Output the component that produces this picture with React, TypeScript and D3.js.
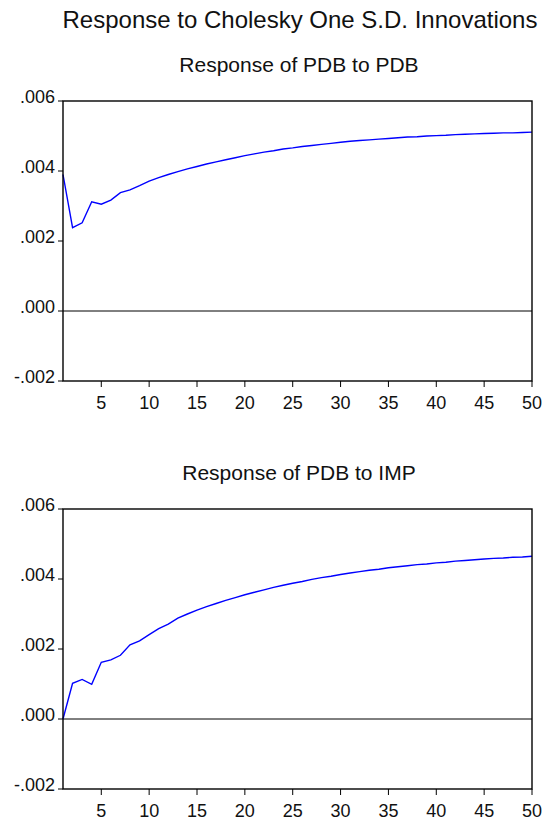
import * as d3 from "d3";

const periods = d3.range(1, 51);

const pdbToPdb = [
  0.0039, 0.00238, 0.00252, 0.00312, 0.00305, 0.00317, 0.00338, 0.00346, 0.00358, 0.00371,
  0.00381, 0.0039, 0.00398, 0.00406, 0.00413, 0.0042, 0.00426, 0.00432, 0.00438, 0.00444,
  0.00449, 0.00454, 0.00458, 0.00463, 0.00466, 0.0047, 0.00473, 0.00476, 0.00479, 0.00482,
  0.00485, 0.00487, 0.00489, 0.00491, 0.00493, 0.00495, 0.00497, 0.00498, 0.005, 0.00501,
  0.00502, 0.00504, 0.00505, 0.00506, 0.00507, 0.00508, 0.00509, 0.00509, 0.0051, 0.00511,
];

const pdbToImp = [
  0.0, 0.00102, 0.00113, 0.00099, 0.00162, 0.00169, 0.00182, 0.00212, 0.00223, 0.00241,
  0.00258, 0.00271, 0.00288, 0.003, 0.00311, 0.00321, 0.0033, 0.00339, 0.00347, 0.00355,
  0.00362, 0.00369, 0.00376, 0.00382, 0.00388, 0.00393, 0.00399, 0.00404, 0.00408, 0.00413,
  0.00417, 0.00421, 0.00425, 0.00428, 0.00432, 0.00435, 0.00438, 0.00441, 0.00443, 0.00446,
  0.00448, 0.00451, 0.00453, 0.00455, 0.00457, 0.00459, 0.0046, 0.00462, 0.00463, 0.00465,
];

const yTicks = [-0.002, 0, 0.002, 0.004, 0.006];
const xTicks = [5, 10, 15, 20, 25, 30, 35, 40, 45, 50];

const mainTitle = "Response to Cholesky One S.D. Innovations";
const panelTitles = ["Response of PDB to PDB", "Response of PDB to IMP"];

const width = 542;
const height = 821;
const font = "'Liberation Sans', Arial, sans-serif";

function Panel({ data, title, top }: { data: number[]; title: string; top: number }) {
  const left = 63;
  const right = 532;
  const bottom = top + 280;

  const x = d3.scaleLinear([1, 50], [left, right]);
  const y = d3.scaleLinear([-0.002, 0.006], [bottom, top]);
  const line = d3
    .line<number>()
    .x((d, i) => x(periods[i]))
    .y((d) => y(d));
  // EViews-style labels: ".004", "-.002"
  const fmt = (v: number) => v.toFixed(3).replace("0.", ".");

  return (
    <g>
      <text x={299} y={top - 29} textAnchor="middle" fontSize={21} fontFamily={font} fill="#111">
        {title}
      </text>
      <line x1={left} x2={right} y1={y(0)} y2={y(0)} stroke="#000" strokeWidth={1} />
      <path d={line(data) || ""} fill="none" stroke="#0000ff" strokeWidth={1.4} />
      <rect x={left} y={top} width={right - left} height={bottom - top} fill="none" stroke="#000" strokeWidth={1.4} />
      {yTicks.map((t) => (
        <g key={t}>
          <line x1={left - 5} x2={left} y1={y(t)} y2={y(t)} stroke="#000" strokeWidth={1} />
          <text x={left - 8} y={y(t)} dy="0.1em" textAnchor="end" fontSize={18} fontFamily={font} fill="#111">
            {fmt(t)}
          </text>
        </g>
      ))}
      {xTicks.map((t) => (
        <g key={t}>
          <line x1={x(t)} x2={x(t)} y1={bottom} y2={bottom + 6} stroke="#000" strokeWidth={1} />
          <text x={x(t)} y={bottom + 28} textAnchor="middle" fontSize={18} fontFamily={font} fill="#111">
            {t}
          </text>
        </g>
      ))}
    </g>
  );
}

export default function App() {
  return (
    <div>
      <style>{"body{margin:0}"}</style>
      <svg width={width} height={height} style={{ display: "block", background: "#fff" }}>
        <text x={300} y={28} textAnchor="middle" fontSize={24} fontFamily={font} fill="#111">
          {mainTitle}
        </text>
        <Panel data={pdbToPdb} title={panelTitles[0]} top={101} />
        <Panel data={pdbToImp} title={panelTitles[1]} top={509} />
      </svg>
    </div>
  );
}
